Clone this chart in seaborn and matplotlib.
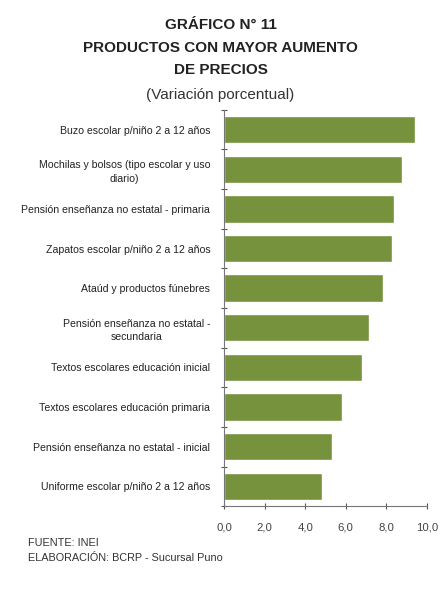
import matplotlib
matplotlib.use('Agg')
import matplotlib.pyplot as plt
import numpy as np
import pandas as pd
import seaborn as sns

# datos del gráfico (variación porcentual)
productos = [
    'Buzo escolar p/niño 2 a 12 años',
    'Mochilas y bolsos (tipo escolar y uso\ndiario)',
    'Pensión enseñanza no estatal - primaria',
    'Zapatos escolar p/niño 2 a 12 años',
    'Ataúd y productos fúnebres',
    'Pensión enseñanza no estatal -\nsecundaria',
    'Textos escolares educación inicial',
    'Textos escolares educación primaria',
    'Pensión enseñanza no estatal - inicial',
    'Uniforme escolar p/niño 2 a 12 años',
]
variacion = [9.41, 8.78, 8.38, 8.28, 7.82, 7.16, 6.80, 5.81, 5.34, 4.84]
xticks = [0, 2, 4, 6, 8, 10]
xticklabels = ['0,0', '2,0', '4,0', '6,0', '8,0', '10,0']

df = pd.DataFrame({'producto': productos, 'variacion': variacion})

sns.set_style('white')
plt.rcParams['font.family'] = ['Liberation Sans', 'DejaVu Sans']

fig = plt.figure(figsize=(4.41, 5.90), dpi=100)
ax = fig.add_axes([0.508, 0.142, 0.46, 0.672])

sns.barplot(data=df, x='variacion', y='producto', orient='h',
            color='#76923C', saturation=1, width=0.69, ax=ax)

ax.set_xlim(0, 10)
ax.set_ylim(9.5, -0.5)
ax.set_xticks(xticks)
ax.set_xticklabels(xticklabels, fontsize=8.2, color='#444444')
ax.set_yticks(range(len(productos)))
ax.set_yticklabels(productos, fontsize=7.6, color='#222222', linespacing=1.45,
                   multialignment='center')
ax.set_xlabel('')
ax.set_ylabel('')

# marcas del eje entre categorías (estilo Excel)
ax.set_yticks(np.arange(-0.5, 10, 1), minor=True)
ax.tick_params(axis='y', which='major', left=False, length=0, pad=10)
ax.tick_params(axis='y', which='minor', left=True, length=5, width=0.8,
               color='#555555', direction='inout')
ax.tick_params(axis='x', which='major', bottom=True, length=5, width=0.8,
               color='#555555', direction='inout', pad=9)

sns.despine(ax=ax, top=True, right=True)
ax.spines['left'].set_color('#777777')
ax.spines['bottom'].set_color('#777777')

# títulos
titulo_kw = dict(ha='center', va='center', fontsize=11, fontweight='bold', color='#222222')
fig.text(0.5, 0.958, 'GRÁFICO N° 11', **titulo_kw)
fig.text(0.5, 0.919, 'PRODUCTOS CON MAYOR AUMENTO', **titulo_kw)
fig.text(0.5, 0.881, 'DE PRECIOS', **titulo_kw)
fig.text(0.5, 0.839, '(Variación porcentual)', ha='center', va='center',
         fontsize=11, color='#333333')

# fuente
fig.text(0.063, 0.080, 'FUENTE: INEI', ha='left', va='center',
         fontsize=7.8, color='#333333')
fig.text(0.063, 0.054, 'ELABORACIÓN: BCRP - Sucursal Puno', ha='left', va='center',
         fontsize=7.8, color='#333333')

fig.savefig('out.png', dpi=100, facecolor='white')
